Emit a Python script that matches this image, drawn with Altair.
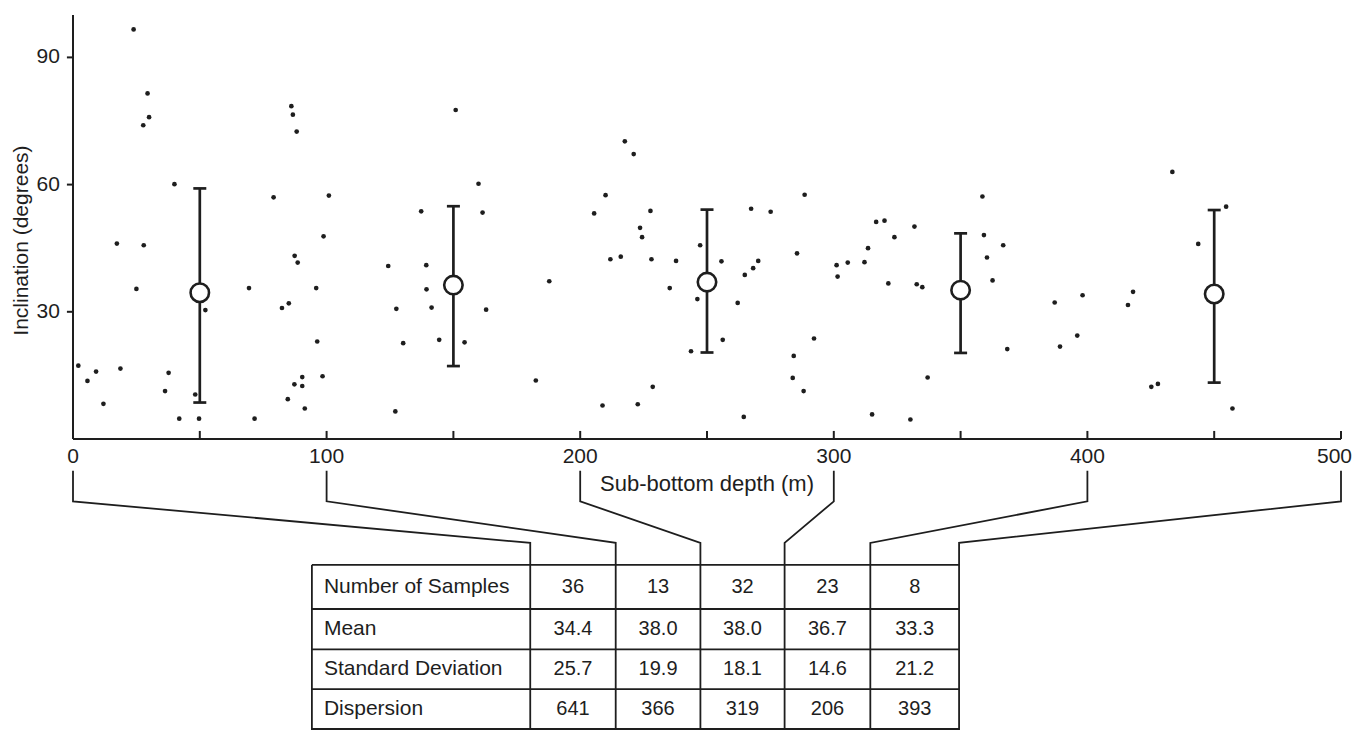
import altair as alt
import pandas as pd

# ---- scatter data: sub-bottom depth (m) and inclination (degrees) ----
depth = [2.1, 5.7, 9.1, 12.0, 17.3, 18.7, 23.9, 25.0, 27.7, 27.9, 29.4, 30.0,
         36.3, 37.7, 40.0, 41.9, 48.2, 49.7, 52.2, 69.4, 71.6, 79.1, 82.4, 84.7,
         85.1, 86.1, 86.7, 87.3, 87.4, 88.2, 88.6, 90.4, 90.4, 91.4, 95.9, 96.3,
         98.4, 98.8, 100.9, 124.3, 127.1, 127.5, 130.2, 137.3, 139.3, 139.4,
         141.4, 144.4, 150.9, 154.4, 159.9, 161.5, 162.9, 182.5, 187.8, 205.5,
         208.8, 210.0, 211.9, 216.0, 217.6, 221.1, 222.7, 223.6, 224.4, 227.7,
         228.1, 228.6, 235.3, 237.8, 243.7, 246.2, 247.3, 255.7, 256.2, 262.1,
         264.5, 264.9, 267.4, 268.2, 270.2, 275.1, 283.8, 284.2, 285.5, 288.1,
         288.5, 292.2, 301.1, 301.5, 305.5, 312.1, 313.5, 315.1, 316.7, 320.0,
         321.5, 323.9, 330.2, 331.8, 332.7, 334.9, 337.0, 358.6, 359.2, 360.4,
         362.6, 366.8, 368.4, 387.1, 389.2, 396.0, 398.1, 416.0, 418.0, 425.2,
         427.8, 433.5, 443.7, 454.7, 457.2]
incl = [17.3, 13.7, 15.9, 8.3, 46.1, 16.6, 96.6, 35.4, 74.0, 45.7, 81.5, 75.9,
        11.3, 15.6, 60.1, 4.8, 10.5, 4.8, 30.4, 35.6, 4.8, 57.0, 30.9, 9.4,
        32.0, 78.5, 76.5, 12.9, 43.2, 72.5, 41.6, 14.6, 12.5, 7.2, 35.6, 23.0,
        14.8, 47.8, 57.4, 40.8, 6.5, 30.7, 22.6, 53.7, 41.0, 35.3,
        31.0, 23.4, 77.6, 22.8, 60.2, 53.4, 30.5, 13.8, 37.2, 53.2,
        7.9, 57.5, 42.4, 43.0, 70.2, 67.2, 8.2, 49.8, 47.6, 53.8,
        42.4, 12.3, 35.6, 42.0, 20.7, 33.0, 45.7, 41.9, 23.4, 32.1,
        5.2, 38.7, 54.3, 40.3, 42.0, 53.6, 14.4, 19.6, 43.8, 11.3,
        57.6, 23.7, 41.0, 38.3, 41.6, 41.7, 45.0, 5.8, 51.2, 51.5,
        36.7, 47.6, 4.6, 50.1, 36.5, 35.8, 14.5, 57.2, 48.1, 42.8,
        37.4, 45.7, 21.2, 32.2, 21.8, 24.4, 33.9, 31.6, 34.7, 12.3,
        13.0, 63.0, 46.0, 54.8, 7.2]

# ---- 100 m interval means with +/- one standard deviation ----
bin_center = [50, 150, 250, 350, 450]
bin_mean = [34.5, 36.3, 37.0, 35.1, 34.2]
bin_low = [8.6, 17.2, 20.4, 20.3, 13.3]
bin_high = [59.1, 54.9, 54.1, 48.5, 54.0]

# ---- statistics table ----
row_labels = ["Number of Samples", "Mean", "Standard Deviation", "Dispersion"]
n_samples = ["36", "13", "32", "23", "8"]
means = ["34.4", "38.0", "38.0", "36.7", "33.3"]
std_devs = ["25.7", "19.9", "18.1", "14.6", "21.2"]
dispersion = ["641", "366", "319", "206", "393"]

x_labels = [0, 100, 200, 300, 400, 500]
x_ticks = [0, 50, 100, 150, 200, 250, 300, 350, 400, 450, 500]
y_ticks = [30, 60, 90]
x_title_text = "Sub-bottom depth (m)"
y_title_text = "Inclination (degrees)"

# ---- layout (in axis units) ----
Y_MIN, Y_MAX = -75, 100
col_edges = [94.2, 180.3, 214.0, 247.4, 280.6, 314.4, 349.4]
row_edges = [-29.7, -40.1, -49.6, -59.0, -68.4]
conn_top, conn_bend, conn_diag_end = -7.5, -14.7, -24.5
y_title_pos = (-20.3, 46.8)
x_title_pos = (250, 0)
tick_up = 1.9       # x-axis tick length (inclination units)
tick_left = -2.4    # y-axis tick end (depth units)

FONT = "Liberation Sans"
INK = "#1e1e1e"
xs = alt.Scale(domain=[0, 500], nice=False, zero=False)
ys = alt.Scale(domain=[Y_MIN, Y_MAX], nice=False, zero=False)


def X(f):
    return alt.X(f, scale=xs, axis=None)


def Y(f):
    return alt.Y(f, scale=ys, axis=None)


pts = pd.DataFrame({"depth": depth, "incl": incl})
bins = pd.DataFrame({"c": bin_center, "m": bin_mean, "lo": bin_low, "hi": bin_high})

scatter = alt.Chart(pts).mark_circle(size=22, color=INK, opacity=1).encode(
    x=X("depth:Q"), y=Y("incl:Q"))

# axis lines
axis_df = pd.DataFrame({"x0": [0, 0], "x1": [0, 500], "y0": [0, 0], "y1": [Y_MAX, 0]})
axis_lines = alt.Chart(axis_df).mark_rule(color=INK, strokeWidth=2).encode(
    x=X("x0:Q"), x2="x1:Q", y=Y("y0:Q"), y2="y1:Q")

# x ticks (pointing up into the plot) and labels
tick_df = pd.DataFrame({"t": x_ticks, "y0": [0] * len(x_ticks), "y1": [tick_up] * len(x_ticks)})
x_tick_marks = alt.Chart(tick_df).mark_rule(color=INK, strokeWidth=2).encode(
    x=X("t:Q"), y=Y("y0:Q"), y2="y1:Q")
lab_df = pd.DataFrame({"t": x_labels, "lab": [str(v) for v in x_labels], "y": [0] * len(x_labels)})
x_tick_labels = alt.Chart(lab_df[lab_df.t < 500]).mark_text(
    font=FONT, fontSize=21, color=INK, baseline="middle", dy=18).encode(
    x=X("t:Q"), y=Y("y:Q"), text="lab:N")
x_last_label = alt.Chart(lab_df[lab_df.t == 500]).mark_text(
    font=FONT, fontSize=21, color=INK, baseline="middle", align="right", dx=11, dy=18).encode(
    x=X("t:Q"), y=Y("y:Q"), text="lab:N")
x_title = alt.Chart(pd.DataFrame({"t": [x_title_pos[0]], "y": [x_title_pos[1]], "lab": [x_title_text]})).mark_text(
    font=FONT, fontSize=22, color=INK, baseline="middle", dy=45).encode(
    x=X("t:Q"), y=Y("y:Q"), text="lab:N")

# y ticks (pointing outward) and labels
ytick_df = pd.DataFrame({"v": y_ticks, "x0": [0] * 3, "x1": [tick_left] * 3, "lab": [str(v) for v in y_ticks]})
y_tick_marks = alt.Chart(ytick_df).mark_rule(color=INK, strokeWidth=2).encode(
    x=X("x0:Q"), x2="x1:Q", y=Y("v:Q"))
y_tick_labels = alt.Chart(ytick_df).mark_text(
    font=FONT, fontSize=21, color=INK, align="right", baseline="middle", dx=-7).encode(
    x=X("x1:Q"), y=Y("v:Q"), text="lab:N")
y_title = alt.Chart(pd.DataFrame({"x": [y_title_pos[0]], "y": [y_title_pos[1]], "lab": [y_title_text]})).mark_text(
    font=FONT, fontSize=21, color=INK, angle=270, align="center", baseline="middle").encode(
    x=X("x:Q"), y=Y("y:Q"), text="lab:N")

# error bars
err = alt.Chart(bins).mark_rule(color=INK, strokeWidth=2.7).encode(
    x=X("c:Q"), y=Y("lo:Q"), y2="hi:Q")
cap_lo = alt.Chart(bins).mark_tick(orient="horizontal", size=13, thickness=2.7, color=INK, opacity=1).encode(
    x=X("c:Q"), y=Y("lo:Q"))
cap_hi = alt.Chart(bins).mark_tick(orient="horizontal", size=13, thickness=2.7, color=INK, opacity=1).encode(
    x=X("c:Q"), y=Y("hi:Q"))
mean_pts = alt.Chart(bins).mark_point(shape="circle", size=340, filled=True, fill="white",
                                      stroke=INK, strokeWidth=2.6, opacity=1).encode(
    x=X("c:Q"), y=Y("m:Q"))

# connectors from axis ticks to table columns
conn_rows = []
for i, t in enumerate(x_labels):
    ce = col_edges[i + 1]
    for k, (xx, yy) in enumerate([(t, conn_top), (t, conn_bend), (ce, conn_diag_end), (ce, row_edges[0])]):
        conn_rows.append({"id": i, "k": k, "x": xx, "y": yy})
connectors = alt.Chart(pd.DataFrame(conn_rows)).mark_line(color=INK, strokeWidth=1.8).encode(
    x=X("x:Q"), y=Y("y:Q"), detail="id:N", order="k:Q")

# table grid
h_df = pd.DataFrame({"y": row_edges, "x0": [col_edges[0]] * len(row_edges),
                     "x1": [col_edges[-1]] * len(row_edges)})
h_lines = alt.Chart(h_df).mark_rule(color=INK, strokeWidth=1.8).encode(
    x=X("x0:Q"), x2="x1:Q", y=Y("y:Q"))
v_df = pd.DataFrame({"x": col_edges, "y0": [row_edges[0]] * len(col_edges),
                     "y1": [Y_MIN] * len(col_edges)})
v_lines = alt.Chart(v_df).mark_rule(color=INK, strokeWidth=1.8).encode(
    x=X("x:Q"), y=Y("y0:Q"), y2="y1:Q")

row_mid = [(row_edges[i] + row_edges[i + 1]) / 2 for i in range(4)]
lab_rows = pd.DataFrame({"x": [col_edges[0]] * 4, "y": row_mid, "lab": row_labels})
row_text = alt.Chart(lab_rows).mark_text(font=FONT, fontSize=21, color=INK, align="left",
                                         baseline="middle", dx=12).encode(
    x=X("x:Q"), y=Y("y:Q"), text="lab:N")
cells = []
for r, vals in enumerate([n_samples, means, std_devs, dispersion]):
    for c, v in enumerate(vals):
        cells.append({"x": (col_edges[c + 1] + col_edges[c + 2]) / 2, "y": row_mid[r], "v": v})
cell_text = alt.Chart(pd.DataFrame(cells)).mark_text(font=FONT, fontSize=20, color=INK,
                                                      align="center", baseline="middle").encode(
    x=X("x:Q"), y=Y("y:Q"), text="v:N")

chart = alt.layer(
    scatter, axis_lines, x_tick_marks, x_tick_labels, x_last_label, x_title,
    y_tick_marks, y_tick_labels, y_title,
    connectors, h_lines, v_lines, row_text, cell_text,
    err, cap_lo, cap_hi, mean_pts,
).properties(
    width=1268, height=742,
    autosize=alt.AutoSizeParams(type="none"),
    padding={"left": 65, "top": 7, "right": 11, "bottom": 0},
    background="white",
).configure_view(stroke=None)

chart.save("out.html", embed_options={"renderer": "svg", "actions": False})
